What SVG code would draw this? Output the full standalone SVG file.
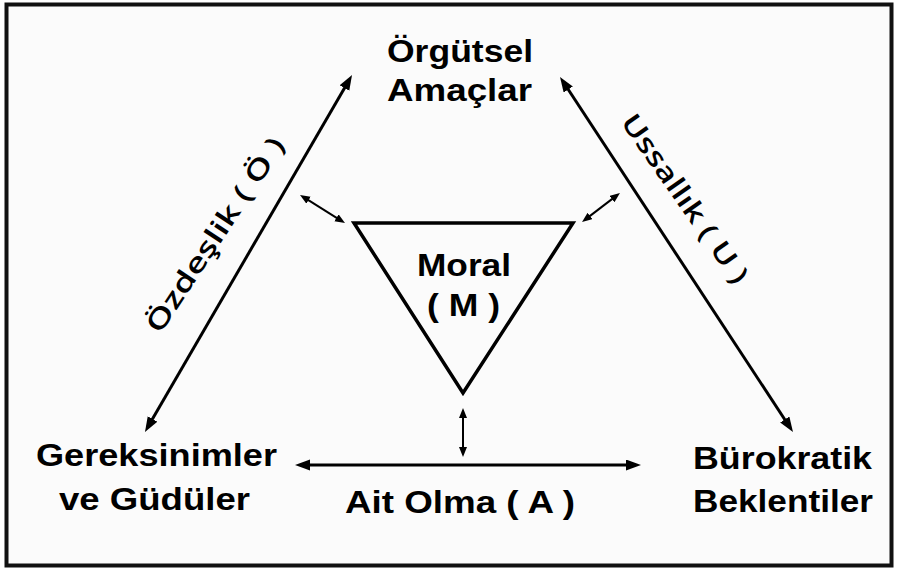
<svg xmlns="http://www.w3.org/2000/svg" width="897" height="569" viewBox="0 0 897 569">
<style>
.lbl{font-family:"Liberation Sans",Arial,sans-serif;font-weight:bold;font-size:32px;fill:#000}
.rot{font-family:"Open Sans","DejaVu Sans",sans-serif;font-weight:600;font-size:27px;fill:#000}
.main{stroke:#000;stroke-width:3;fill:none}
.small{stroke:#000;stroke-width:2;fill:none}
</style>
<defs>
<marker id="ah" markerUnits="userSpaceOnUse" markerWidth="17" markerHeight="12" refX="3" refY="5.5" orient="auto-start-reverse" viewBox="0 0 17 12">
<path d="M0,0 L15,5.5 L0,11 z" fill="#000"/>
</marker>
<marker id="ahs" markerUnits="userSpaceOnUse" markerWidth="12" markerHeight="10" refX="2" refY="4" orient="auto-start-reverse" viewBox="0 0 12 10">
<path d="M0,0 L10,4 L0,8 z" fill="#000"/>
</marker>
</defs>
<rect x="0" y="0" width="897" height="569" fill="#fff"/>
<rect x="6.5" y="4.5" width="885" height="561" fill="#fbfbfb" stroke="#111" stroke-width="4"/>
<g id="connectors">
<line class="main" x1="151" y1="421.6" x2="346" y2="85.4" marker-start="url(#ah)" marker-end="url(#ah)"/>
<line class="main" x1="566.6" y1="87" x2="786.4" y2="422" marker-start="url(#ah)" marker-end="url(#ah)"/>
<line class="main" x1="307" y1="465" x2="629" y2="465" stroke-width="4" marker-start="url(#ah)" marker-end="url(#ah)"/>
<line class="small" x1="306.8" y1="199.2" x2="338.2" y2="218.8" marker-start="url(#ahs)" marker-end="url(#ahs)"/>
<line class="small" x1="588.4" y1="217.1" x2="613.6" y2="197.9" marker-start="url(#ahs)" marker-end="url(#ahs)"/>
<line class="small" x1="463" y1="416" x2="463" y2="449" marker-start="url(#ahs)" marker-end="url(#ahs)"/>
<text class="rot" transform="translate(160,335) rotate(-56.5)" textLength="228" lengthAdjust="spacingAndGlyphs">Özdeşlik ( Ö )</text>
<text class="rot" transform="translate(620,122) rotate(55)" textLength="200" lengthAdjust="spacingAndGlyphs">Ussallık ( U )</text>
<text class="lbl" x="345" y="513" textLength="230" lengthAdjust="spacingAndGlyphs">Ait Olma ( A )</text>
</g>
<g id="orgutsel">
<text class="lbl" x="387" y="62" textLength="146" lengthAdjust="spacingAndGlyphs">Örgütsel</text>
<text class="lbl" x="387" y="101" textLength="145" lengthAdjust="spacingAndGlyphs">Amaçlar</text>
</g>
<g id="moral">
<polygon points="354,223 573,223 463,393" fill="none" stroke="#000" stroke-width="3.5" stroke-linejoin="miter"/>
<text class="lbl" x="417" y="276" textLength="94" lengthAdjust="spacingAndGlyphs">Moral</text>
<text class="lbl" x="427" y="316" textLength="73" lengthAdjust="spacingAndGlyphs">( M )</text>
</g>
<g id="gereksinimler">
<text class="lbl" x="36" y="466" textLength="241" lengthAdjust="spacingAndGlyphs">Gereksinimler</text>
<text class="lbl" x="59" y="510" textLength="191" lengthAdjust="spacingAndGlyphs">ve Güdüler</text>
</g>
<g id="burokratik">
<text class="lbl" x="693" y="469" textLength="179" lengthAdjust="spacingAndGlyphs">Bürokratik</text>
<text class="lbl" x="693" y="512" textLength="180" lengthAdjust="spacingAndGlyphs">Beklentiler</text>
</g>
</svg>
